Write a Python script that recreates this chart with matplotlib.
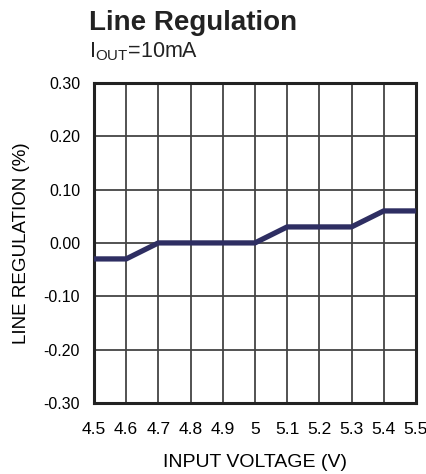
import matplotlib
matplotlib.use('Agg')
import matplotlib.pyplot as plt

plt.rcParams['font.family'] = ['Liberation Sans', 'DejaVu Sans']

# data
vin = [4.5, 4.6, 4.7, 4.8, 4.9, 5.0, 5.1, 5.2, 5.3, 5.4, 5.5]
reg = [-0.03, -0.03, 0.0, 0.0, 0.0, 0.0, 0.03, 0.03, 0.03, 0.06, 0.06]
xticks = [4.5, 4.6, 4.7, 4.8, 4.9, 5.0, 5.1, 5.2, 5.3, 5.4, 5.5]
xlabels = ['4.5', '4.6', '4.7', '4.8', '4.9', '5', '5.1', '5.2', '5.3', '5.4', '5.5']
yticks = [-0.30, -0.20, -0.10, 0.00, 0.10, 0.20, 0.30]

fig = plt.figure(figsize=(4.27, 4.74), dpi=100)
ax = fig.add_axes([0.220, 0.150, 0.754, 0.675])

ax.plot(vin, reg, color='#2e2e62', linewidth=3.8, solid_capstyle='butt', zorder=3)
ax.set_xlim(4.5, 5.5)
ax.set_ylim(-0.30, 0.30)
ax.set_xticks(xticks)
ax.set_xticklabels(xlabels, fontsize=12.5)
ax.set_yticks(yticks)
ax.set_yticklabels(['%.2f' % v for v in yticks], fontsize=11.5)
ax.tick_params(axis='x', length=0, pad=14)
ax.tick_params(axis='y', length=0, pad=10)
ax.grid(True, color='#444444', linewidth=1.3)
for s in ax.spines.values():
    s.set_linewidth(2.2)
    s.set_color('#222222')

ax.set_xlabel('INPUT VOLTAGE (V)', fontsize=14, labelpad=12)
ax.set_ylabel('LINE REGULATION (%)', fontsize=13.5, labelpad=10)

fig.text(0.208, 0.952, 'Line Regulation', fontsize=20, fontweight='bold', ha='left', va='center', color='#222222')
fig.text(0.208, 0.89, r'I$_{\mathregular{OUT}}$=10mA', fontsize=15.5, ha='left', va='center', color='#222222')

fig.savefig('out.png', dpi=100)
